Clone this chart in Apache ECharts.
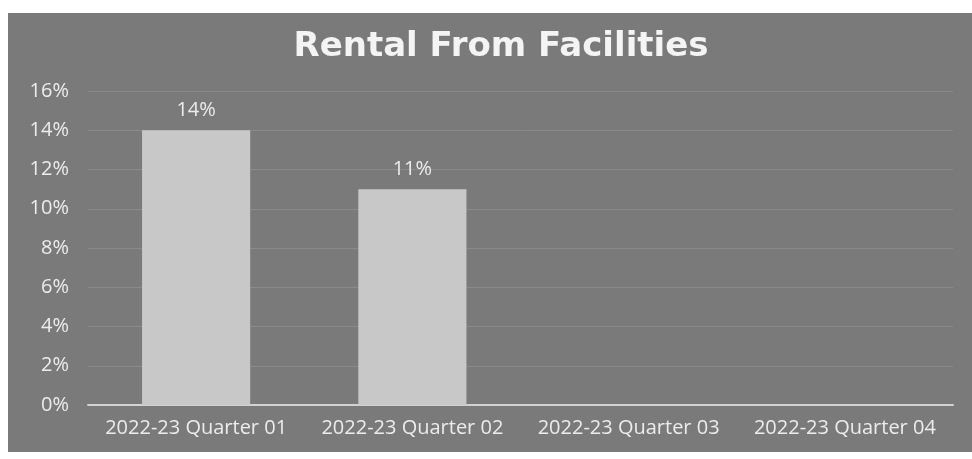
<!DOCTYPE html>
<html><head><meta charset="utf-8">
<script src="https://cdn.jsdelivr.net/npm/echarts@6/dist/echarts.min.js"></script>
<style>html,body{margin:0;padding:0;background:#fff}#c{width:972px;height:459px}</style>
</head><body><div id="c"></div>
<script>
const categories = ['2022-23 Quarter 01','2022-23 Quarter 02','2022-23 Quarter 03','2022-23 Quarter 04'];
const values = [14, 11, null, null];
const yTicks = [0,2,4,6,8,10,12,14,16];

const chart = echarts.init(document.getElementById('c'));
chart.setOption({
  backgroundColor: '#ffffff',
  animation: false,
  graphic: [{
    type: 'rect', z: -10, silent: true,
    shape: {x: 8, y: 13, width: 964, height: 439},
    style: {fill: '#7a7a7a'}
  }],
  title: {
    text: 'Rental From Facilities', left: 496, textAlign: 'center', top: 25,
    textStyle: {color: '#f4f4f4', fontSize: 34, fontWeight: 'bold', fontFamily: 'DejaVu Sans'}
  },
  grid: {left: 88, right: 19, top: 91, bottom: 54},
  xAxis: {
    type: 'category', data: categories,
    axisLine: {lineStyle: {color: '#d2d2d2', width: 2}},
    axisTick: {show: false},
    axisLabel: {color: '#ececec', fontSize: 20, fontFamily: 'Open Sans', margin: 13, interval: 0}
  },
  yAxis: {
    type: 'value', min: yTicks[0], max: yTicks[yTicks.length-1], interval: 2,
    axisLine: {show: false}, axisTick: {show: false},
    splitLine: {lineStyle: {color: '#8a8a8a', width: 1}},
    axisLabel: {color: '#ececec', fontSize: 20, fontFamily: 'Open Sans', margin: 19, formatter: v => v + '%'}
  },
  series: [{
    type: 'bar', data: values, barWidth: '50%',
    itemStyle: {color: '#c8c8c8'},
    label: {show: true, position: 'top', distance: 10, color: '#ececec', fontSize: 20, fontFamily: 'Open Sans', formatter: p => p.value + '%'}
  }]
});
</script></body></html>
